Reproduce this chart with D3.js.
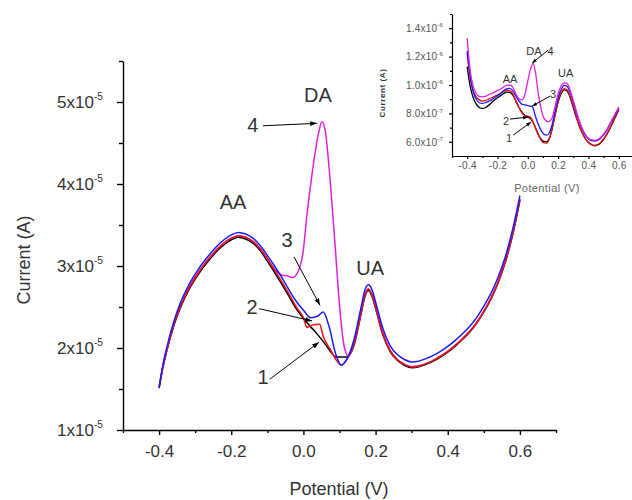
<!DOCTYPE html>
<html>
<head>
<meta charset="utf-8">
<script src="https://cdn.jsdelivr.net/npm/d3@7"></script>
<style>
  body { margin: 0; background: #fff; }
  svg { display: block; font-family: "Liberation Sans", Arial, sans-serif; }
</style>
</head>
<body>
<div id="chart"></div>
<script>
// ---- data: main voltammograms (current in units of 1e-5 A) ----
const mainPot1 = [-0.40,-0.39,-0.38,-0.36,-0.34,-0.32,-0.30,-0.28,-0.26,-0.24,-0.22,-0.20,-0.18,-0.16,-0.14,-0.12,-0.10,-0.08,-0.06,-0.04,-0.02,
  0.00,0.02,0.04,0.06,0.08,0.09,0.105,0.12,0.14,0.16,0.17,0.18,0.19,0.20,
  0.22,0.24,0.26,0.28,0.30,0.32,0.34,0.36,0.38,0.40,0.42,0.44,0.46,0.48,0.50,0.52,0.54,0.56,0.58,0.60];
const mainCur1 = [1.51,1.75,1.94,2.26,2.50,2.69,2.84,2.97,3.08,3.18,3.26,3.32,3.35,3.33,3.28,3.19,3.06,2.92,2.78,2.63,2.48,
  2.36,2.26,2.16,2.05,1.93,1.89,1.89,1.89,2.03,2.42,2.62,2.70,2.63,2.48,
  2.16,1.96,1.85,1.79,1.76,1.77,1.80,1.84,1.89,1.95,2.02,2.10,2.19,2.30,2.44,2.60,2.80,3.05,3.38,3.80];

const mainPot2 = [-0.40,-0.39,-0.38,-0.36,-0.34,-0.32,-0.30,-0.28,-0.26,-0.24,-0.22,-0.20,-0.18,-0.16,-0.14,-0.12,-0.10,-0.08,-0.06,-0.04,-0.02,
  0.00,0.01,0.025,0.045,0.055,0.075,0.09,0.105,0.12,0.14,0.16,0.17,0.18,0.19,0.20,
  0.22,0.24,0.26,0.28,0.30,0.32,0.34,0.36,0.38,0.40,0.42,0.44,0.46,0.48,0.50,0.52,0.54,0.56,0.58,0.60];
const mainCur2 = [1.51,1.76,1.95,2.28,2.52,2.71,2.86,2.99,3.10,3.20,3.28,3.34,3.37,3.35,3.30,3.21,3.09,2.95,2.81,2.66,2.50,
  2.37,2.25,2.28,2.29,2.14,1.98,1.86,1.79,1.86,2.05,2.44,2.64,2.72,2.65,2.50,
  2.18,1.97,1.86,1.80,1.77,1.78,1.81,1.85,1.90,1.96,2.03,2.11,2.20,2.31,2.45,2.61,2.81,3.07,3.40,3.82];

const mainPot3 = [-0.40,-0.39,-0.38,-0.36,-0.34,-0.32,-0.30,-0.28,-0.26,-0.24,-0.22,-0.20,-0.18,-0.16,-0.14,-0.12,-0.10,-0.08,-0.06,-0.04,-0.02,
  0.00,0.02,0.04,0.055,0.07,0.09,0.105,0.12,0.14,0.16,0.17,0.18,0.19,0.20,
  0.22,0.24,0.26,0.28,0.30,0.32,0.34,0.36,0.38,0.40,0.42,0.44,0.46,0.48,0.50,0.52,0.54,0.56,0.58,0.60];
const mainCur3 = [1.52,1.78,1.98,2.31,2.56,2.75,2.90,3.03,3.14,3.24,3.32,3.38,3.41,3.39,3.34,3.25,3.13,3.00,2.86,2.71,2.57,
  2.46,2.37,2.39,2.44,2.28,1.92,1.79,1.86,2.10,2.50,2.70,2.77,2.71,2.56,
  2.24,2.03,1.92,1.86,1.83,1.84,1.87,1.91,1.96,2.02,2.09,2.17,2.26,2.37,2.51,2.67,2.87,3.12,3.45,3.86];

const mainPot4 = [-0.40,-0.39,-0.38,-0.36,-0.34,-0.32,-0.30,-0.28,-0.26,-0.24,-0.22,-0.20,-0.18,-0.16,-0.14,-0.12,-0.10,
  -0.08,-0.06,-0.045,-0.03,-0.015,0.00,0.008,0.023,0.042,0.051,0.06,0.074,0.088,0.102,0.115,0.125,0.14,0.16,0.17,0.18,0.19,0.20,
  0.22,0.24,0.26,0.28,0.30,0.32,0.34,0.36,0.38,0.40,0.42,0.44,0.46,0.48,0.50,0.52,0.54,0.56,0.58,0.60];
const mainCur4 = [1.51,1.76,1.95,2.28,2.52,2.71,2.86,2.99,3.10,3.20,3.28,3.34,3.37,3.35,3.30,3.21,3.09,
  2.96,2.89,2.88,2.86,2.93,3.20,3.55,4.09,4.62,4.76,4.66,4.05,3.24,2.42,1.98,1.90,2.06,2.44,2.64,2.72,2.65,2.50,
  2.18,1.97,1.86,1.80,1.77,1.78,1.81,1.85,1.90,1.96,2.03,2.11,2.20,2.31,2.45,2.61,2.81,3.07,3.40,3.82];

// ---- data: inset voltammograms (current in units of 1e-7 A) ----
const insetPot12 = [-0.40,-0.38,-0.36,-0.34,-0.32,-0.30,-0.28,-0.26,-0.24,-0.22,-0.20,-0.18,-0.16,-0.14,-0.12,-0.10,-0.08,-0.06,-0.04,-0.02,
  0.00,0.02,0.04,0.06,0.08,0.10,0.12,0.14,0.16,0.18,0.20,0.22,0.24,0.26,0.28,0.30,0.32,0.34,0.36,0.38,0.40,0.42,0.44,0.46,0.48,0.50,0.52,0.54,0.56,0.58,0.60];
const insetCur1 = [11.3,9.9,9.1,8.65,8.42,8.35,8.4,8.55,8.75,8.95,9.1,9.25,9.4,9.5,9.48,9.3,8.9,8.45,8.1,7.85,
  7.75,7.6,7.25,6.75,6.3,6.05,6.0,6.2,6.9,7.9,8.8,9.4,9.65,9.55,9.1,8.4,7.7,7.1,6.6,6.2,5.95,5.8,5.72,5.78,5.92,6.18,6.5,6.9,7.35,7.8,8.25];
const insetCur2 = [12.2,10.5,9.6,9.15,8.95,8.87,8.9,9.0,9.1,9.2,9.3,9.42,9.55,9.63,9.6,9.4,8.95,8.45,8.05,7.85,
  7.8,7.7,7.25,6.7,6.25,5.95,5.9,6.15,6.9,7.95,8.9,9.5,9.75,9.65,9.2,8.5,7.75,7.1,6.6,6.2,5.95,5.8,5.75,5.8,5.95,6.2,6.55,6.95,7.4,7.85,8.3];

const insetPot3 = [-0.40,-0.38,-0.36,-0.34,-0.32,-0.30,-0.28,-0.26,-0.24,-0.22,-0.20,-0.18,-0.16,-0.14,-0.12,-0.10,-0.08,-0.06,-0.04,-0.02,
  0.00,0.02,0.03,0.05,0.07,0.09,0.11,0.125,0.14,
  0.16,0.18,0.20,0.22,0.24,0.26,0.28,0.30,0.32,0.34,0.36,0.38,0.40,0.42,0.44,0.46,0.48,0.50,0.52,0.54,0.56,0.58,0.60];
const insetCur3 = [12.4,10.6,9.5,9.0,8.75,8.7,8.75,8.85,8.95,9.1,9.25,9.4,9.6,9.72,9.76,9.6,9.25,8.9,8.65,8.6,
  8.55,8.5,8.46,7.8,7.2,6.75,6.5,6.47,6.6,
  7.2,8.2,9.1,9.7,9.98,9.9,9.45,8.8,8.05,7.4,6.85,6.45,6.2,6.08,6.05,6.1,6.25,6.5,6.8,7.2,7.6,8.0,8.4];

const insetPot4 = [-0.40,-0.38,-0.36,-0.34,-0.32,-0.30,-0.28,-0.26,-0.24,-0.22,-0.20,-0.18,-0.16,-0.14,-0.12,-0.10,-0.08,-0.06,-0.04,-0.02,
  0.00,0.02,0.035,0.05,0.07,0.09,0.11,0.135,
  0.16,0.18,0.20,0.22,0.24,0.26,0.28,0.30,0.32,0.34,0.36,0.38,0.40,0.42,0.44,0.46,0.48,0.50,0.52,0.54,0.56,0.58,0.60];
const insetCur4 = [13.3,11.0,9.9,9.4,9.2,9.17,9.2,9.3,9.4,9.5,9.6,9.72,9.85,9.98,10.0,9.85,9.4,9.05,8.95,9.3,
  10.3,11.2,11.5,10.9,9.3,8.2,7.6,7.41,
  7.7,8.5,9.4,9.95,10.15,10.1,9.6,8.9,8.15,7.45,6.9,6.5,6.25,6.13,6.1,6.15,6.3,6.55,6.85,7.25,7.65,8.05,8.45];

// ---- ticks ----
const mainXTicks = [-0.4,-0.2,0.0,0.2,0.4,0.6];
const mainXMinor = [-0.5,-0.3,-0.1,0.1,0.3,0.5,0.7];
const mainYTicks = [1,2,3,4,5];
const mainYLabels = [["1x10","-5"],["2x10","-5"],["3x10","-5"],["4x10","-5"],["5x10","-5"]];
const mainYMinor = [1.5,2.5,3.5,4.5,5.5];
const insetYTicks = [6,8,10,12,14];
const insetYLabels = [["6.0x10","-7"],["8.0x10","-7"],["1.0x10","-6"],["1.2x10","-6"],["1.4x10","-6"]];
const insetYMinor = [7,9,11,13,15];

// curve colours: 1 black, 2 red, 3 blue, 4 magenta
const curveColors = ["#000000","#ee1111","#1a1aff","#e020e0"];

const WIDTH = 632, HEIGHT = 500;
const svg = d3.select("#chart").append("svg")
    .attr("width", WIDTH).attr("height", HEIGHT);

const defs = svg.append("defs");
defs.append("marker").attr("id", "arr")
    .attr("viewBox", "0 0 10 10").attr("refX", 10).attr("refY", 5)
    .attr("markerWidth", 7).attr("markerHeight", 7).attr("orient", "auto")
  .append("path").attr("d", "M0,1.5L10,5L0,8.5Z").attr("fill", "#000");
defs.append("marker").attr("id", "arrS")
    .attr("viewBox", "0 0 10 10").attr("refX", 10).attr("refY", 5)
    .attr("markerWidth", 5).attr("markerHeight", 5).attr("orient", "auto")
  .append("path").attr("d", "M0,1.5L10,5L0,8.5Z").attr("fill", "#000");

function zip(p, c) { return p.map((v, i) => [v, c[i]]); }

// superscript labels like 5x10^-5
function sciLabels(axisG, labels, ticks, fontSize) {
  axisG.selectAll(".tick text").each(function(d) {
    const lab = labels[ticks.indexOf(d)];
    const t = d3.select(this).text("");
    t.append("tspan").text(lab[0]);
    t.append("tspan").text(lab[1])
      .attr("font-size", fontSize * 0.6).attr("dy", -fontSize * 0.45);
  });
}

function styleAxis(g, fontSize, width, color) {
  g.attr("font-family", "'Liberation Sans', Arial, sans-serif")
   .attr("font-size", fontSize);
  g.selectAll("path.domain").attr("stroke", "#000").attr("stroke-width", width);
  g.selectAll(".tick line").attr("stroke", "#000").attr("stroke-width", width);
  g.selectAll(".tick text").attr("fill", color || "#333");
}

// ================= main chart =================
const X = d3.scaleLinear().domain([-0.5, 0.7]).range([123, 556]);
const Y = d3.scaleLinear().domain([1, 5.5]).range([430, 61]);

const xMain = svg.append("g").attr("transform", "translate(0,430)")
    .call(d3.axisBottom(X).tickValues(mainXTicks).tickSize(5).tickPadding(10)
      .tickSizeOuter(0).tickFormat(d => d.toFixed(1)));
styleAxis(xMain, 17, 1.4);
const xMainMinor = svg.append("g").attr("transform", "translate(0,430)")
    .call(d3.axisBottom(X).tickValues(mainXMinor).tickSize(3).tickFormat(""));
xMainMinor.select(".domain").remove();
styleAxis(xMainMinor, 17, 1.4);

const yMain = svg.append("g").attr("transform", "translate(123,0)")
    .call(d3.axisLeft(Y).tickValues(mainYTicks).tickSize(6).tickPadding(14).tickSizeOuter(0));
styleAxis(yMain, 17, 1.4);
sciLabels(yMain, mainYLabels, mainYTicks, 17);
const yMainMinor = svg.append("g").attr("transform", "translate(123,0)")
    .call(d3.axisLeft(Y).tickValues(mainYMinor).tickSize(4).tickFormat(""));
yMainMinor.select(".domain").remove();
styleAxis(yMainMinor, 17, 1.4);

svg.append("text").attr("x", 339).attr("y", 495).attr("text-anchor", "middle")
    .attr("font-size", 18).attr("fill", "#333").text("Potential (V)");
svg.append("text").attr("transform", "translate(30,260) rotate(-90)")
    .attr("text-anchor", "middle").attr("font-size", 18).attr("fill", "#333")
    .text("Current (A)");

const lineMain = d3.line().x(d => X(d[0])).y(d => Y(d[1])).curve(d3.curveMonotoneX);
const mainSeries = [zip(mainPot1, mainCur1), zip(mainPot4, mainCur4), zip(mainPot2, mainCur2), zip(mainPot3, mainCur3)];
const mainColorIdx = [0, 3, 1, 2];
svg.append("g").selectAll("path").data(mainSeries).enter().append("path")
    .attr("d", lineMain)
    .attr("fill", "none")
    .attr("stroke", (d, i) => curveColors[mainColorIdx[i]])
    .attr("stroke-width", 1.5);

// peak names and curve numbers
const mainText = [
  {t: "AA", v: -0.195, c: 3.78}, {t: "DA", v: 0.04, c: 5.09}, {t: "UA", v: 0.185, c: 2.98},
  {t: "4", v: -0.14, c: 4.72}, {t: "3", v: -0.045, c: 3.32}, {t: "2", v: -0.142, c: 2.50}, {t: "1", v: -0.112, c: 1.65}
];
svg.append("g").selectAll("text").data(mainText).enter().append("text")
    .attr("x", d => X(d.v)).attr("y", d => Y(d.c) + 7)
    .attr("text-anchor", "middle").attr("font-size", 20).attr("fill", "#333")
    .text(d => d.t);
const mainLeaders = [
  {v0: -0.112, c0: 4.71, v1: 0.038, c1: 4.74},
  {v0: -0.026, c0: 3.11, v1: 0.046, c1: 2.52},
  {v0: -0.123, c0: 2.48, v1: 0.024, c1: 2.33},
  {v0: -0.093, c0: 1.62, v1: 0.043, c1: 2.07}
];
svg.append("g").selectAll("line").data(mainLeaders).enter().append("line")
    .attr("x1", d => X(d.v0)).attr("y1", d => Y(d.c0))
    .attr("x2", d => X(d.v1)).attr("y2", d => Y(d.c1))
    .attr("stroke", "#000").attr("stroke-width", 1).attr("marker-end", "url(#arr)");

// ================= inset =================
const XI = d3.scaleLinear().domain([-0.5, 0.7]).range([452, 634]);
const YI = d3.scaleLinear().domain([5, 15]).range([156, 14]);

const xIn = svg.append("g").attr("transform", "translate(0,156)")
    .call(d3.axisBottom(XI).tickValues(mainXTicks).tickSize(3).tickPadding(3)
      .tickSizeOuter(0).tickFormat(d => d.toFixed(1)));
styleAxis(xIn, 10, 1.2, "#555");
xIn.selectAll(".tick text").attr("letter-spacing", 0.3);
const xInMinor = svg.append("g").attr("transform", "translate(0,156)")
    .call(d3.axisBottom(XI).tickValues(mainXMinor).tickSize(2).tickFormat(""));
xInMinor.select(".domain").remove();
styleAxis(xInMinor, 10, 1.2);

const yIn = svg.append("g").attr("transform", "translate(452,0)")
    .call(d3.axisLeft(YI).tickValues(insetYTicks).tickSize(3).tickPadding(6).tickSizeOuter(0));
styleAxis(yIn, 10, 1.2, "#555");
sciLabels(yIn, insetYLabels, insetYTicks, 10);
yIn.selectAll(".tick text").attr("letter-spacing", 0.2);
const yInMinor = svg.append("g").attr("transform", "translate(452,0)")
    .call(d3.axisLeft(YI).tickValues(insetYMinor).tickSize(2).tickFormat(""));
yInMinor.select(".domain").remove();
styleAxis(yInMinor, 10, 1.2);

svg.append("text").attr("x", 547).attr("y", 192).attr("text-anchor", "middle")
    .attr("font-size", 11).attr("letter-spacing", 0.4).attr("fill", "#666").text("Potential (V)");
svg.append("text").attr("transform", "translate(385,93) rotate(-90)")
    .attr("text-anchor", "middle").attr("font-size", 8).attr("font-weight", "bold")
    .attr("letter-spacing", 0.6).attr("fill", "#333").text("Current (A)");

const lineIn = d3.line().x(d => XI(d[0])).y(d => YI(d[1])).curve(d3.curveMonotoneX);
const insetSeries = [zip(insetPot12, insetCur1), zip(insetPot12, insetCur2), zip(insetPot3, insetCur3), zip(insetPot4, insetCur4)];
svg.append("g").selectAll("path").data(insetSeries).enter().append("path")
    .attr("d", lineIn)
    .attr("fill", "none")
    .attr("stroke", (d, i) => curveColors[i])
    .attr("stroke-width", 1.3);

const insetText = [
  {t: "AA", v: -0.117, c: 10.42}, {t: "DA", v: 0.04, c: 12.39}, {t: "UA", v: 0.25, c: 10.84},
  {t: "4", v: 0.15, c: 12.39}, {t: "3", v: 0.167, c: 9.36}, {t: "2", v: -0.144, c: 7.46}, {t: "1", v: -0.124, c: 6.26}
];
svg.append("g").selectAll("text").data(insetText).enter().append("text")
    .attr("x", d => XI(d.v)).attr("y", d => YI(d.c) + 4)
    .attr("text-anchor", "middle").attr("font-size", 11).attr("fill", "#333")
    .text(d => d.t);
const insetLeaders = [
  {v0: 0.134, c0: 12.46, v1: 0.028, c1: 11.54},
  {v0: 0.147, c0: 9.22, v1: 0.028, c1: 8.51},
  {v0: -0.117, c0: 7.6, v1: 0.002, c1: 7.74},
  {v0: -0.097, c0: 6.47, v1: 0.021, c1: 7.39}
];
svg.append("g").selectAll("line").data(insetLeaders).enter().append("line")
    .attr("x1", d => XI(d.v0)).attr("y1", d => YI(d.c0))
    .attr("x2", d => XI(d.v1)).attr("y2", d => YI(d.c1))
    .attr("stroke", "#000").attr("stroke-width", 1).attr("marker-end", "url(#arrS)");
</script>
</body>
</html>
